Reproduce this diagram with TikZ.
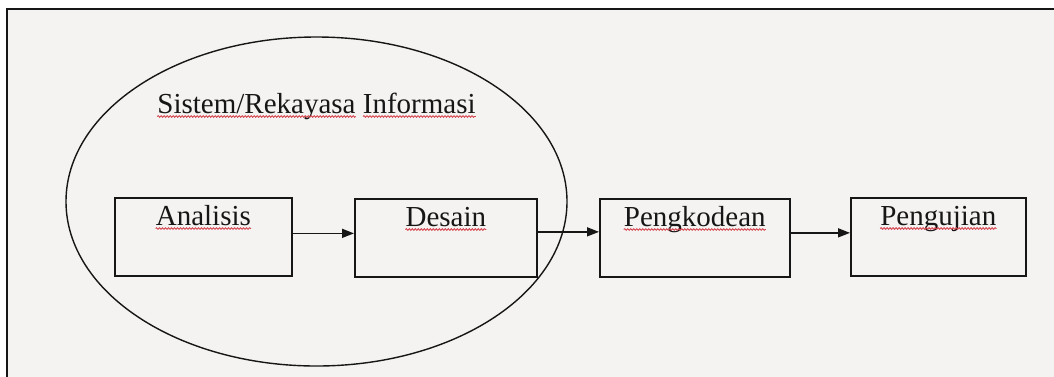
\documentclass[tikz,border=0pt]{standalone}
\usepackage{fontspec}
\setmainfont{Liberation Serif}
\usetikzlibrary{shapes.geometric,arrows.meta,decorations.pathmorphing,calc}
\definecolor{paper}{HTML}{F4F3F1}
\definecolor{ink}{HTML}{161616}
\definecolor{spell}{RGB}{214,70,80}
\tikzset{
  stepbox/.style={draw=ink, line width=1.7pt, rectangle, inner sep=0pt,
    minimum height=78pt, text height=28pt, text depth=50pt,
    font=\fontsize{29}{34}\selectfont, text=ink},
  flow/.style={draw=ink, line width=1.5pt, -{Triangle[length=12pt,width=9pt]}},
  squiggle/.style={draw=spell, line width=0.9pt, decorate,
    decoration={snake, segment length=3pt, amplitude=0.8pt}},
}
\begin{document}
\begin{tikzpicture}[x=1pt,y=-1pt]
\useasboundingbox (0,0) rectangle (1054,376);
\fill[white] (0,0) rectangle (1054,376);
\fill[paper] (7,9) rectangle (1070,390);
\draw[ink, line width=2pt] (7,390) -- (7,9) -- (1070,9);

\node (sys) [ellipse, draw=ink, line width=1.4pt, minimum width=501pt, minimum height=329pt, inner sep=0pt] at (316.5,201.5) {};
\node (title) [anchor=base, inner sep=0pt, font=\fontsize{29}{34}\selectfont, text=ink] at (316.5,113) {Sistem/Rekayasa Informasi};

\node (ana) [stepbox, minimum width=177pt, anchor=north west] at (114,197) {Analisis};
\node (des) [stepbox, minimum width=182pt, anchor=north west] at (354,198) {Desain};
\node (kod) [stepbox, minimum width=190pt, anchor=north west] at (599,198) {Pengkodean};
\node (uji) [stepbox, minimum width=175pt, anchor=north west] at (850,197) {Pengujian};

\draw[flow] ([yshift=3.5pt]ana.east) -- ([yshift=3.5pt]ana.east -| des.west);
\draw[flow] ([yshift=6pt]des.east) -- ([yshift=6pt]des.east -| kod.west);
\draw[flow] ([yshift=5pt]kod.east) -- ([yshift=5pt]kod.east -| uji.west);

% spelling squiggles under words
\foreach \n/\w in {ana/Analisis, des/Desain, kod/Pengkodean, uji/Pengujian}{
  \path (\n.north) ++(0,28) node (\n base) [anchor=base, inner sep=0pt, font=\fontsize{29}{34}\selectfont, opacity=0] {\w};
  \draw[squiggle] ([yshift=-3.5pt]\n base.base west) -- ([yshift=-3.5pt]\n base.base east);
}
\draw[squiggle] ([yshift=-3.5pt]title.base west) -- ([yshift=-3.5pt]$(title.base west)!0.623!(title.base east)$);
\draw[squiggle] ([yshift=-3.5pt]$(title.base west)!0.646!(title.base east)$) -- ([yshift=-3.5pt]title.base east);
\end{tikzpicture}
\end{document}
